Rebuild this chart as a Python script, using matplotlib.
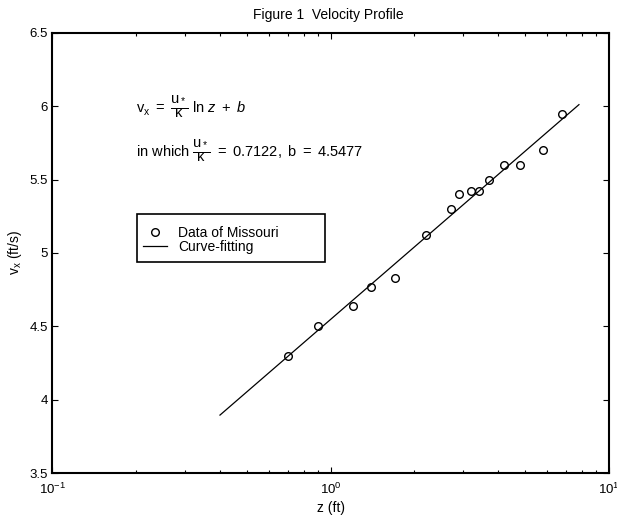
import matplotlib
matplotlib.use("Agg")
import matplotlib.pyplot as plt
from matplotlib.patches import Rectangle
import numpy as np

plt.rcParams['font.family'] = ['Liberation Sans', 'DejaVu Sans']
plt.rcParams['mathtext.fontset'] = 'custom'
plt.rcParams['mathtext.rm'] = 'Liberation Sans'
plt.rcParams['mathtext.it'] = 'Liberation Sans:italic'
plt.rcParams['mathtext.bf'] = 'Liberation Sans:bold'

# Data
z_data = [0.7, 0.9, 1.2, 1.4, 1.7, 2.2, 2.7, 2.9, 3.2, 3.4, 3.7, 4.2, 4.8, 5.8, 6.8]
v_data = [4.30, 4.50, 4.64, 4.77, 4.83, 5.12, 5.30, 5.40, 5.42, 5.42, 5.50, 5.60, 5.60, 5.70, 5.95]

fit_slope = 0.7122
fit_intercept = 4.5477
fit_z_range = [0.4, 7.8]

title = "Figure 1  Velocity Profile"
xlabel = "z (ft)"
ylabel = r"$\mathregular{v_x}$ (ft/s)"
y_ticks = [3.5, 4, 4.5, 5, 5.5, 6, 6.5]
y_ticklabels = ["3.5", "4", "4.5", "5", "5.5", "6", "6.5"]

fig = plt.figure(figsize=(6.17, 5.21), dpi=100)
ax = fig.add_axes([0.085, 0.092, 0.902, 0.845])

z_fit = np.logspace(np.log10(fit_z_range[0]), np.log10(fit_z_range[1]), 200)
v_fit = fit_slope * np.log(z_fit) + fit_intercept

ax.plot(z_data, v_data, 'o', mfc='none', mec='black', ms=5.5, mew=1.0,
        label='Data of Missouri')
ax.plot(z_fit, v_fit, '-', color='black', lw=0.9, label='Curve-fitting')

ax.set_xscale('log')
ax.set_xlim(0.1, 10)
ax.set_ylim(3.5, 6.5)
ax.set_yticks(y_ticks)
ax.set_yticklabels(y_ticklabels)

ax.tick_params(which='both', direction='in', top=True, right=True,
               labelsize=9.5)
ax.tick_params(axis='x', which='both', pad=6)
ax.tick_params(which='major', length=4, width=0.8)
ax.tick_params(which='minor', length=2.5, width=0.8)
for s in ax.spines.values():
    s.set_linewidth(1.5)

ax.set_xlabel(xlabel, fontsize=10, labelpad=3)
ax.set_ylabel(ylabel, fontsize=10, labelpad=4)
fig.text(0.532, 0.971, title, ha='center', va='center', fontsize=10)

ax.text(0.2, 6.0,
        r"$\mathregular{v_x\ =\ \dfrac{u_*}{\kappa}\ ln\ }\mathit{z}\mathregular{\ +\ }\mathit{b}$",
        fontsize=10.5, va='center', ha='left')
ax.text(0.2, 5.70,
        r"$\mathregular{in\ which\ \dfrac{u_*}{\kappa}\ =\ 0.7122,\ b\ =\ 4.5477}$",
        fontsize=10.5, va='center', ha='left')

leg = ax.legend(loc='upper left', bbox_to_anchor=(0.163, 0.562), fontsize=10,
                frameon=False, borderpad=0, handlelength=1.7,
                handletextpad=0.8, labelspacing=0.0, borderaxespad=0)
ax.add_patch(Rectangle((0.152, 0.480), 0.338, 0.109, transform=ax.transAxes,
                       fill=False, edgecolor='black', lw=1.2, zorder=5))

fig.savefig('out.png', dpi=100)
